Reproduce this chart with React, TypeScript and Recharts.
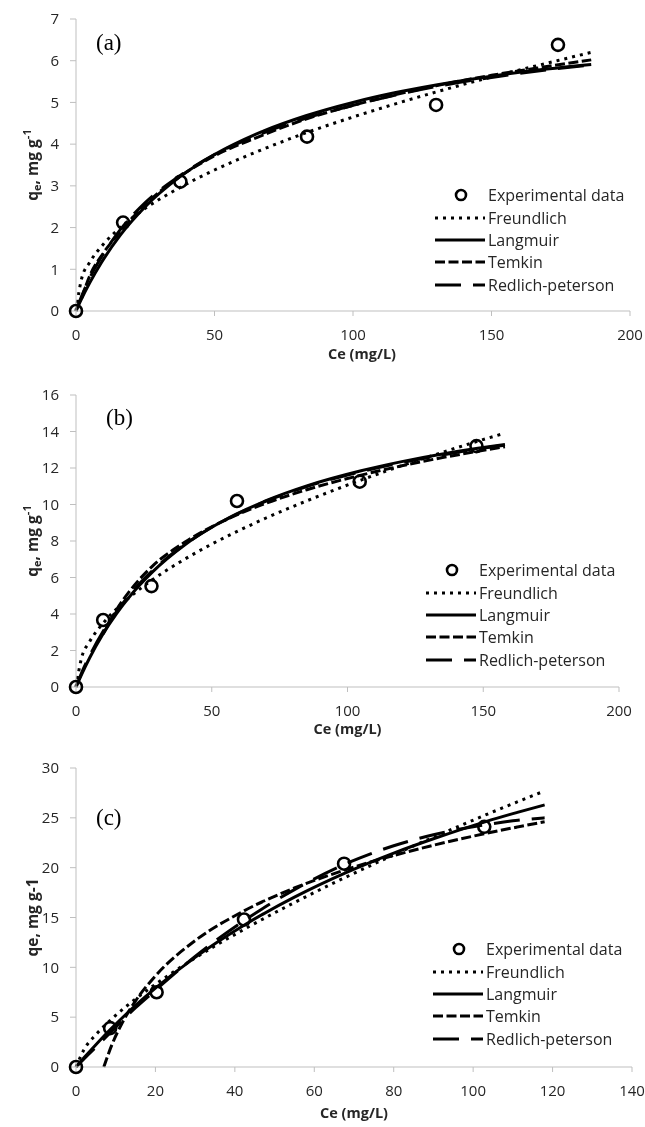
import { ComposedChart, Line, Scatter, XAxis, YAxis } from "recharts"

const FONT = "'Open Sans', sans-serif"
const AXIS = "#bfbfbf"
const TXT = "#262626"

// panel (a)
const CE_A = [0, 2, 5, 10, 16, 25, 37, 50, 65, 83, 100, 115, 130, 150, 170, 186]
const FREUNDLICH_A = [0, 0.77, 1.17, 1.61, 2.0, 2.46, 2.94, 3.38, 3.81, 4.27, 4.65, 4.96, 5.25, 5.61, 5.94, 6.2]
const LANGMUIR_A = [0, 0.29, 0.68, 1.25, 1.82, 2.5, 3.19, 3.75, 4.24, 4.68, 5.0, 5.23, 5.42, 5.63, 5.8, 5.91]
const TEMKIN_A = [null, 0.3, 0.85, 1.4, 1.9, 2.55, 3.2, 3.72, 4.15, 4.6, 4.93, 5.18, 5.4, 5.65, 5.86, 6.02]
const RP_A = [0, 0.35, 0.8, 1.38, 1.95, 2.6, 3.22, 3.75, 4.2, 4.62, 4.93, 5.17, 5.38, 5.6, 5.78, 5.9]
const EXP_CE_A = [0, 17, 37.7, 83.4, 130, 174]
const EXP_QE_A = [0, 2.12, 3.1, 4.18, 4.94, 6.38]

// panel (b)
const CE_B = [0, 2, 5, 10, 15, 20, 28, 40, 50, 59, 70, 85, 105, 120, 135, 148, 158]
const FREUNDLICH_B = [0, 1.57, 2.48, 3.5, 4.29, 4.95, 5.86, 7.0, 7.83, 8.5, 9.26, 10.2, 11.34, 12.13, 12.86, 13.47, 13.91]
const LANGMUIR_B = [0, 0.67, 1.59, 2.92, 4.04, 5.0, 6.28, 7.78, 8.75, 9.47, 10.21, 11.02, 11.85, 12.35, 12.77, 13.08, 13.29]
const TEMKIN_B = [null, null, null, 2.9, 4.25, 5.3, 6.6, 7.93, 8.78, 9.42, 10.07, 10.81, 11.61, 12.12, 12.57, 12.92, 13.17]
const RP_B = [0, 0.75, 1.7, 3.05, 4.15, 5.1, 6.35, 7.8, 8.75, 9.45, 10.18, 10.98, 11.8, 12.3, 12.72, 13.05, 13.25]
const EXP_CE_B = [0, 10, 27.8, 59.3, 104.5, 147.5]
const EXP_QE_B = [0, 3.67, 5.53, 10.19, 11.25, 13.2]

// panel (c)
const CE_C = [0, 2, 5, 7, 9, 12, 15, 20, 30, 42, 55, 68, 80, 90, 103, 110, 118]
const FREUNDLICH_C = [0, 1.74, 3.24, 4.07, 4.83, 5.87, 6.83, 8.3, 10.94, 13.74, 16.5, 19.06, 21.28, 23.05, 25.27, 26.42, 27.7]
const LANGMUIR_C = [0, 0.92, 2.24, 3.09, 3.9, 5.07, 6.18, 7.91, 11.0, 14.15, 17.04, 19.5, 21.46, 22.9, 24.6, 25.42, 26.3]
const TEMKIN_C = [null, null, null, 0, 2.19, 4.69, 6.64, 9.14, 12.68, 15.6, 17.96, 19.8, 21.22, 22.25, 23.42, 23.99, 24.6]
const RP_C = [0, 0.8, 2.0, 2.8, 3.6, 4.8, 5.95, 7.7, 11.1, 14.6, 17.8, 20.4, 22.2, 23.3, 24.3, 24.7, 25.0]
const EXP_CE_C = [0, 8.6, 20.3, 42.3, 67.5, 102.8]
const EXP_QE_C = [0, 3.9, 7.5, 14.8, 20.4, 24.1]

const LEGEND = ["Experimental data", "Freundlich", "Langmuir", "Temkin", "Redlich-peterson"]
const DASH: Record<string, string | undefined> = { freundlich: "3 5", langmuir: undefined, temkin: "10 3.5", rp: "26 12" }
const KEYS = ["freundlich", "langmuir", "temkin", "rp"]

const W = 637

const Ring = (p: any) => (
  <circle cx={p.cx} cy={p.cy} r={6} fill="none" stroke="#000" strokeWidth={2.6} />
)

function LegendBox({ left, top }: { left: number; top: number }) {
  return (
    <div style={{ position: "absolute", left, top, fontFamily: FONT, fontSize: 16, color: TXT }}>
      {LEGEND.map((name, i) => (
        <div key={name} style={{ height: 22.4, display: "flex", alignItems: "center", whiteSpace: "nowrap" }}>
          <svg width={53} height={14} style={{ flexShrink: 0 }}>
            {i === 0 ? (
              <circle cx={26} cy={7} r={5} fill="none" stroke="#000" strokeWidth={2.6} />
            ) : (
              <line x1={0} x2={50} y1={7} y2={7} stroke="#000" strokeWidth={3} strokeDasharray={DASH[KEYS[i - 1]]} />
            )}
          </svg>
          <span>{name}</span>
        </div>
      ))}
    </div>
  )
}

type PanelProps = {
  top: number; height: number; plotH: number; right: number
  ce: number[]; f: (number | null)[]; l: (number | null)[]; t: (number | null)[]; r: (number | null)[]
  expCe: number[]; expQe: number[]
  xMax: number; xTicks: number[]; yMax: number; yTicks: number[]
  tag: string; tagX: number; tagY: number
  simpleTitle?: boolean; titleGap: number; titleDx: number
  legendLeft: number; legendTop: number
}

function Panel(p: PanelProps) {
  const rows = p.ce.map((x, i) => ({ x, freundlich: p.f[i], langmuir: p.l[i], temkin: p.t[i], rp: p.r[i] }))
  const exp = p.expCe.map((x, i) => ({ x, y: p.expQe[i] }))
  const plotW = W - 68 - p.right
  const plotBottom = 11 + p.plotH
  const tick = { fill: TXT, fontSize: 15, fontFamily: FONT }

  const yTitle = () => {
    const cx = 24, cy = 11 + p.plotH / 2
    return (
      <text x={cx} y={cy} transform={`rotate(-90, ${cx}, ${cy})`} textAnchor="middle" dominantBaseline="central"
        fontFamily={FONT} fontSize={15.5} fontWeight="bold" fill={TXT}>
        {p.simpleTitle ? "qe, mg g-1" : (
          <>q<tspan fontSize={11} dy={4}>e</tspan><tspan dy={-4}>, mg g</tspan><tspan fontSize={11} dy={-6}>-1</tspan></>
        )}
      </text>
    )
  }
  const xTitle = () => (
    <text x={68 + plotW / 2 + p.titleDx} y={plotBottom + p.titleGap} textAnchor="middle" dominantBaseline="central"
      fontFamily={FONT} fontSize={14.5} fontWeight="bold" fill={TXT}>Ce (mg/L)</text>
  )

  return (
    <div style={{ position: "absolute", top: p.top, left: 0, width: W, height: p.height }}>
      <ComposedChart width={W} height={p.height} data={rows}
        margin={{ top: 11, right: p.right, bottom: p.height - 11 - p.plotH - 30, left: 8 }}>
        <XAxis type="number" dataKey="x" domain={[0, p.xMax]} ticks={p.xTicks} height={30}
          stroke={AXIS} tickSize={5} tickMargin={13} tick={tick} label={xTitle} />
        <YAxis type="number" domain={[0, p.yMax]} ticks={p.yTicks} width={60}
          stroke={AXIS} tickSize={6} tickMargin={11} tick={tick} label={yTitle} />
        {KEYS.map(k => (
          <Line key={k} dataKey={k} type="monotone" stroke="#000" strokeWidth={3}
            strokeDasharray={DASH[k]} dot={false} isAnimationActive={false} />
        ))}
        <Scatter data={exp} dataKey="y" shape={Ring} isAnimationActive={false} />
      </ComposedChart>
      <div style={{ position: "absolute", left: p.tagX, top: p.tagY, fontFamily: "'Liberation Serif', serif", fontSize: 23, color: "#000" }}>
        {p.tag}
      </div>
      <LegendBox left={p.legendLeft} top={p.legendTop} />
    </div>
  )
}

export default function App() {
  // fixed so the page never gets scrollbars
  return (
    <div style={{ position: "fixed", left: 8, top: 8, width: W, height: 1119 }}>
      <Panel top={0} height={360} plotH={292} right={15}
        ce={CE_A} f={FREUNDLICH_A} l={LANGMUIR_A} t={TEMKIN_A} r={RP_A} expCe={EXP_CE_A} expQe={EXP_QE_A}
        xMax={200} xTicks={[0, 50, 100, 150, 200]} yMax={7} yTicks={[0, 1, 2, 3, 4, 5, 6, 7]}
        tag="(a)" tagX={88} tagY={22} titleGap={42} titleDx={9}
        legendLeft={427} legendTop={176} />
      <Panel top={376} height={360} plotH={292} right={26}
        ce={CE_B} f={FREUNDLICH_B} l={LANGMUIR_B} t={TEMKIN_B} r={RP_B} expCe={EXP_CE_B} expQe={EXP_QE_B}
        xMax={200} xTicks={[0, 50, 100, 150, 200]} yMax={16} yTicks={[0, 2, 4, 6, 8, 10, 12, 14, 16]}
        tag="(b)" tagX={98} tagY={21} titleGap={41} titleDx={0}
        legendLeft={418} legendTop={175} />
      <Panel top={749} height={370} plotH={299} right={13}
        ce={CE_C} f={FREUNDLICH_C} l={LANGMUIR_C} t={TEMKIN_C} r={RP_C} expCe={EXP_CE_C} expQe={EXP_QE_C}
        xMax={140} xTicks={[0, 20, 40, 60, 80, 100, 120, 140]} yMax={30} yTicks={[0, 5, 10, 15, 20, 25, 30]}
        tag="(c)" tagX={88} tagY={48} simpleTitle titleGap={45} titleDx={0}
        legendLeft={425} legendTop={181} />
    </div>
  )
}
